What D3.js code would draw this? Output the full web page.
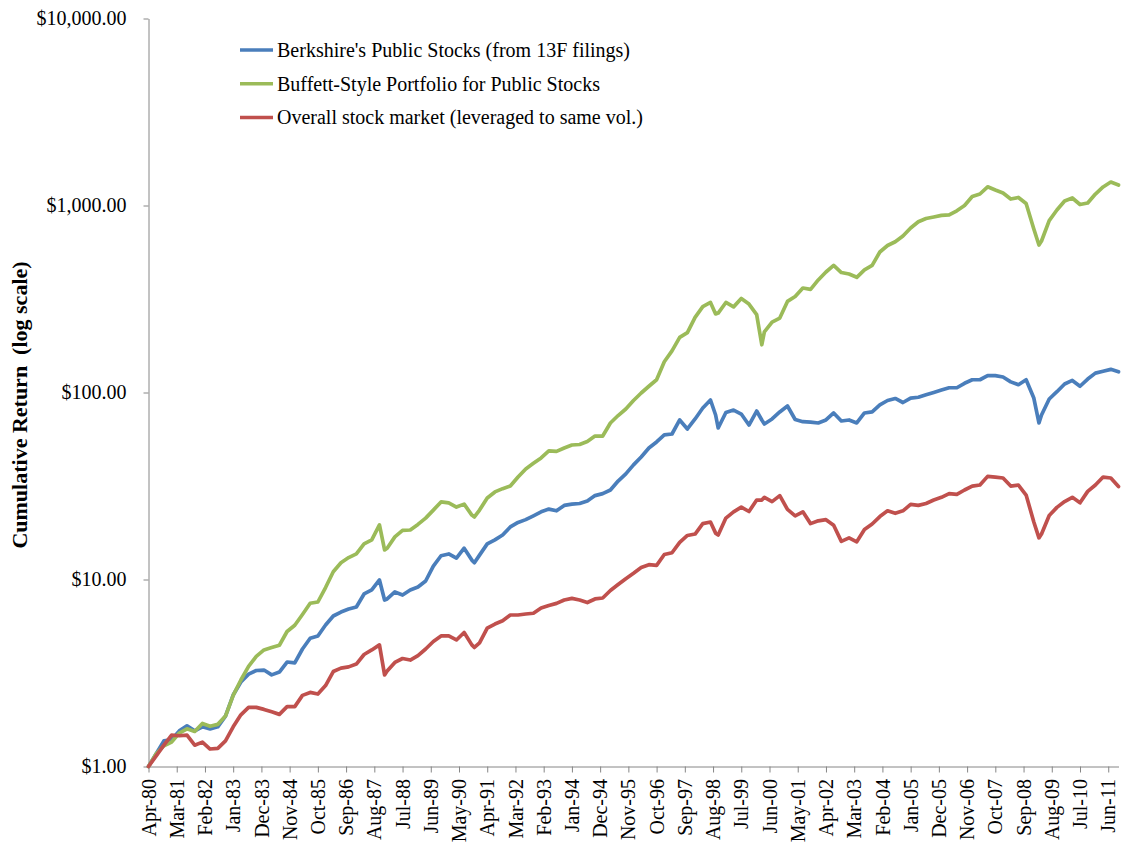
<!DOCTYPE html>
<html>
<head>
<meta charset="utf-8">
<script src="https://cdn.jsdelivr.net/npm/d3@7"></script>
<style>
  body { margin: 0; background: #fff; }
  text { font-family: "Liberation Serif", "Times New Roman", serif; fill: #000; }
</style>
</head>
<body>
<svg width="1121" height="844"></svg>
<script>
// sampled months (mostly quarterly, plus turning points)
var months = [
  "1980-04","1980-07","1980-10","1981-01","1981-04","1981-07","1981-10","1982-01","1982-04","1982-07",
  "1982-10","1983-01","1983-04","1983-07","1983-10","1984-01","1984-04","1984-07","1984-10","1985-01",
  "1985-04","1985-07","1985-10","1986-01","1986-04","1986-07","1986-10","1987-01","1987-04","1987-07",
  "1987-10","1987-12","1988-01","1988-04","1988-07","1988-10","1989-01","1989-04","1989-07","1989-10",
  "1990-01","1990-04","1990-07","1990-10","1990-11","1991-01","1991-04","1991-07","1991-10","1992-01",
  "1992-04","1992-07","1992-10","1993-01","1993-04","1993-07","1993-10","1994-01","1994-04","1994-07",
  "1994-10","1995-01","1995-04","1995-07","1995-10","1996-01","1996-04","1996-07","1996-10","1997-01",
  "1997-04","1997-07","1997-10","1998-01","1998-04","1998-07","1998-09","1998-10","1999-01","1999-04",
  "1999-07","1999-10","2000-01","2000-03","2000-04","2000-07","2000-10","2001-01","2001-04","2001-07",
  "2001-10","2002-01","2002-04","2002-07","2002-10","2003-01","2003-04","2003-07","2003-10","2004-01",
  "2004-04","2004-07","2004-10","2005-01","2005-04","2005-07","2005-10","2006-01","2006-04","2006-07",
  "2006-10","2007-01","2007-04","2007-07","2007-10","2008-01","2008-04","2008-07","2008-10","2009-01",
  "2009-03","2009-04","2009-07","2009-10","2010-01","2010-04","2010-07","2010-10","2011-01","2011-04",
  "2011-07","2011-10"
];

var berkshire = [
  1.00,1.17,1.37,1.39,1.55,1.65,1.55,1.63,1.59,1.63,
  1.86,2.41,2.83,3.12,3.26,3.28,3.09,3.20,3.62,3.58,
  4.25,4.85,4.99,5.71,6.38,6.70,6.95,7.13,8.37,8.79,
  9.94,7.77,7.87,8.58,8.26,8.79,9.12,9.82,11.8,13.4,
  13.7,13.0,14.7,12.7,12.3,13.5,15.5,16.3,17.3,19.1,
  20.2,20.9,21.9,23.0,23.8,23.3,24.9,25.3,25.5,26.3,
  28.1,28.8,30.1,33.6,36.7,41.0,45.2,50.5,54.4,59.3,
  60.0,71.3,63.8,72.2,82.6,91.2,75.8,64.6,78.2,80.6,
  76.7,67.0,79.6,71.3,67.9,72.2,78.7,84.7,71.7,69.8,
  69.5,68.7,71.3,77.7,70.4,71.3,68.7,77.7,78.7,85.8,
  90.6,92.9,88.4,93.4,94.3,97.2,100,103,106,106,
  112,117,117,123,123,121,114,110,117,93.4,
  68.7,75.8,92.3,101,111,116,108,118,127,130,
  133,129
];

var buffettStyle = [
  1.00,1.17,1.29,1.35,1.51,1.59,1.54,1.70,1.64,1.68,
  1.86,2.40,2.90,3.43,3.88,4.20,4.33,4.45,5.27,5.69,
  6.50,7.46,7.58,9.06,11.0,12.3,13.1,13.7,15.5,16.3,
  19.6,14.4,14.7,16.9,18.3,18.4,19.7,21.3,23.5,26.0,
  25.7,24.4,25.3,22.1,21.6,23.5,27.3,29.4,30.6,31.6,
  35.3,39.0,41.8,44.7,48.7,48.4,50.5,52.4,52.7,54.7,
  58.5,58.5,68.7,75.3,81.6,90.6,99.4,108,117,146,
  167,197,209,252,288,303,263,266,303,287,
  318,297,261,180,211,238,250,307,326,362,
  356,400,441,478,438,430,413,453,478,564,
  611,640,687,758,818,852,868,886,890,937,
  1000,1117,1152,1259,1210,1167,1083,1104,1025,749,
  615,646,831,946,1057,1097,1012,1031,1152,1256,
  1335,1287
];

var market = [
  1.00,1.14,1.30,1.47,1.46,1.47,1.30,1.35,1.24,1.25,
  1.37,1.63,1.89,2.07,2.07,2.02,1.96,1.90,2.09,2.09,
  2.40,2.49,2.44,2.71,3.22,3.36,3.41,3.53,3.97,4.20,
  4.47,3.09,3.24,3.60,3.78,3.71,3.92,4.25,4.66,4.99,
  4.99,4.75,5.21,4.47,4.33,4.58,5.50,5.78,6.02,6.46,
  6.46,6.54,6.60,7.04,7.26,7.45,7.77,7.92,7.77,7.53,
  7.87,7.96,8.73,9.40,10.1,10.8,11.6,12.0,11.9,13.6,
  13.9,15.8,17.2,17.5,19.9,20.3,17.7,17.3,21.3,23.0,
  24.4,23.1,26.6,26.6,27.5,26.1,28.1,23.7,21.9,23.0,
  19.9,20.6,20.9,19.5,16.0,16.7,15.9,18.5,19.8,21.7,
  23.3,22.6,23.3,25.2,24.9,25.5,26.6,27.5,28.8,28.5,
  30.1,31.6,32.0,35.6,35.3,34.9,31.6,32.0,28.3,20.3,
  16.7,17.5,22.0,24.3,26.1,27.5,25.7,29.6,32.0,35.3,
  34.9,31.4
];

var tickLabels = [
  "Apr-80","Mar-81","Feb-82","Jan-83","Dec-83","Nov-84","Oct-85","Sep-86","Aug-87","Jul-88",
  "Jun-89","May-90","Apr-91","Mar-92","Feb-93","Jan-94","Dec-94","Nov-95","Oct-96","Sep-97",
  "Aug-98","Jul-99","Jun-00","May-01","Apr-02","Mar-03","Feb-04","Jan-05","Dec-05","Nov-06",
  "Oct-07","Sep-08","Aug-09","Jul-10","Jun-11"
];
var yTicks = [1, 10, 100, 1000, 10000];

var seriesNames = [
  "Berkshire's Public Stocks (from 13F filings)",
  "Buffett-Style Portfolio for Public Stocks",
  "Overall stock market (leveraged to same vol.)"
];
var seriesColors = ["#4a7ebb", "#9bbb59", "#c0504d"];
var seriesValues = [berkshire, buffettStyle, market];

if (berkshire.length !== months.length || buffettStyle.length !== months.length || market.length !== months.length) {
  throw new Error("length mismatch " + months.length + " " + berkshire.length + " " + buffettStyle.length + " " + market.length);
}

var margin = { top: 18.5, right: 2.5, bottom: 77.5, left: 148.5 };
var svg = d3.select("svg");
var width = +svg.attr("width") - margin.left - margin.right;
var height = +svg.attr("height") - margin.top - margin.bottom;
var g = svg.append("g").attr("transform", "translate(" + margin.left + "," + margin.top + ")");

var parse = d3.timeParse("%Y-%m");
var start = parse(months[0]);
var monthIndex = months.map(function (m) { return d3.timeMonth.count(start, parse(m)); });

var x = d3.scaleLinear().domain([0, monthIndex[monthIndex.length - 1]]).range([0, width]);
var y = d3.scaleLog().domain([1, 10000]).range([height, 0]);

// axes
var xAxis = g.append("g")
    .attr("class", "axis axis--x")
    .attr("transform", "translate(0," + height + ")")
    .call(d3.axisBottom(x)
        .tickValues(d3.range(0, tickLabels.length * 11, 11))
        .tickFormat(function (d, i) { return tickLabels[i]; })
        .tickSize(6).tickSizeOuter(0));
xAxis.selectAll("text")
    .attr("y", 0).attr("x", -12.5).attr("dy", "0.33em")
    .attr("transform", "rotate(-90)")
    .style("text-anchor", "end")
    .style("font-size", "20px");

var yAxis = g.append("g")
    .attr("class", "axis axis--y")
    .call(d3.axisLeft(y)
        .tickValues(yTicks)
        .tickFormat(d3.format("$,.2f"))
        .tickSize(5).tickPadding(17).tickSizeOuter(0));
yAxis.selectAll("text").style("font-size", "20px");

svg.selectAll(".axis path, .axis line").attr("stroke", "#868686").attr("stroke-width", 1);
svg.selectAll(".axis text").attr("fill", "#000").style("font-family", "'Liberation Serif', 'Times New Roman', serif");

svg.append("text")
    .attr("transform", "translate(27,405) rotate(-90)")
    .attr("text-anchor", "middle")
    .style("font-size", "22px")
    .style("font-weight", "bold")
    .style("white-space", "pre")
    .text("Cumulative Return  (log scale)");

// lines
var line = d3.line()
    .x(function (d) { return x(d.m); })
    .y(function (d) { return y(d.v); });

seriesValues.forEach(function (vals, k) {
  var pts = vals.map(function (v, i) { return { m: monthIndex[i], v: v }; });
  g.append("path")
      .datum(pts)
      .attr("fill", "none")
      .attr("stroke", seriesColors[k])
      .attr("stroke-width", 3.7)
      .attr("stroke-linejoin", "round")
      .attr("stroke-linecap", "round")
      .attr("d", line);
});

// legend
var legend = svg.append("g").attr("transform", "translate(240,50)");
seriesNames.forEach(function (name, i) {
  var row = legend.append("g").attr("transform", "translate(0," + (i * 33.7) + ")");
  row.append("line")
      .attr("x1", 0).attr("x2", 33).attr("y1", 0).attr("y2", 0)
      .attr("stroke", seriesColors[i]).attr("stroke-width", 3.5);
  row.append("text")
      .attr("x", 37).attr("dy", "0.35em")
      .style("font-size", "20px")
      .text(name);
});
</script>
</body>
</html>
